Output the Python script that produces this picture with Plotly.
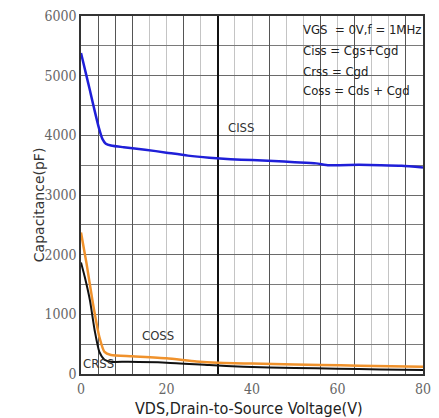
import plotly.graph_objects as go

# ---- data ----
ciss_v = [0, 1, 2, 3, 4.2, 5, 5.8, 7, 10, 15, 20, 25, 30, 35, 40, 45, 50, 55, 58, 65, 70, 75, 80]
ciss_c = [5380, 5080, 4780, 4470, 4120, 3940, 3860, 3830, 3800, 3760, 3710, 3660, 3625, 3600, 3585, 3570, 3550, 3530, 3500, 3505, 3500, 3490, 3460]

coss_v = [0, 1.3, 2.8, 4.3, 5.5, 7, 12, 20, 27, 32, 40, 50, 56, 65, 80]
coss_c = [2370, 1850, 1180, 620, 370, 318, 296, 262, 210, 188, 175, 160, 150, 140, 122]

crss_v = [0, 0.9, 2.1, 3.2, 4.3, 5.5, 7, 11, 20, 30, 38, 50, 60, 70, 80]
crss_c = [1870, 1620, 1230, 730, 370, 240, 205, 205, 190, 150, 122, 100, 90, 75, 65]

x_ticks = [0, 20, 40, 60, 80]
y_ticks = [0, 1000, 2000, 3000, 4000, 5000, 6000]
y_minor = [500, 1500, 2500, 3500, 4500, 5500]
x_dark_grid = [4, 8, 12, 24, 44, 56, 64, 76]
x_light_grid = [16, 20, 28, 36, 40, 48, 52, 60, 68, 72]

curve_labels = [("CISS", 37.5, 4130), ("COSS", 18, 650), ("CRSS", 4, 170)]
cond_lines = ["VGS  = 0V,f = 1MHz", "Ciss = Cgs+Cgd", "Crss = Cgd", "Coss = Cds + Cgd"]

NARROW = "DejaVu Sans Condensed, Liberation Sans Narrow, Arial Narrow, sans-serif"
SERIF = "DejaVu Serif Condensed, DejaVu Serif, Liberation Serif, serif"

fig = go.Figure()
fig.add_trace(go.Scatter(x=[None], y=[None], xaxis="x2", yaxis="y", showlegend=False, hoverinfo="skip"))
fig.add_trace(go.Scatter(x=[None], y=[None], xaxis="x3", yaxis="y", showlegend=False, hoverinfo="skip"))
fig.add_trace(go.Scatter(x=ciss_v, y=ciss_c, mode="lines", line=dict(color="#1f1fd8", width=2.5, shape="spline", smoothing=0.6)))
fig.add_trace(go.Scatter(x=coss_v, y=coss_c, mode="lines", line=dict(color="#f0922c", width=2.5, shape="spline", smoothing=0.6)))
fig.add_trace(go.Scatter(x=crss_v, y=crss_c, mode="lines", line=dict(color="#111111", width=2, shape="spline", smoothing=0.6)))

annos = []
for txt, xv, yv in curve_labels:
    annos.append(dict(x=xv, y=yv, xref="x", yref="y", text=txt, showarrow=False,
                      font=dict(family=NARROW, size=13, color="#333333")))
cond_y_px = [28, 49, 70, 89]
for txt, ypx in zip(cond_lines, cond_y_px):
    annos.append(dict(x=(306 - 81) / 350, y=(374 - ypx) / 360, xref="paper", yref="paper",
                      text=txt, showarrow=False, xanchor="left", yanchor="middle",
                      font=dict(family=NARROW, size=13, color="#222222")))
annos.append(dict(x=(253 - 81) / 350, y=-(409 - 374) / 360, xref="paper", yref="paper",
                  text="VDS,Drain-to-Source Voltage(V)", showarrow=False, yanchor="middle",
                  font=dict(family=NARROW, size=16, color="#222222")))
annos.append(dict(x=(28 - 81) / 350, y=(374 - 204) / 360, xref="paper", yref="paper",
                  text="Capacitance(pF)", showarrow=False, textangle=-90,
                  font=dict(family="DejaVu Sans, sans-serif", size=14, color="#333333")))

fig.update_layout(
    width=439, height=418,
    margin=dict(l=81, r=8, t=14, b=44),
    paper_bgcolor="white", plot_bgcolor="white",
    showlegend=False,
    annotations=annos,
    xaxis=dict(range=[0, 80], tickvals=x_ticks, showgrid=False, zeroline=False,
               showline=True, linecolor="#333333", linewidth=1.5, mirror=True,
               tickfont=dict(family=SERIF, size=14, color="#666666"), ticks="",
               ticklabelstandoff=1,
               minor=dict(tickvals=x_light_grid, showgrid=True, gridcolor="#c4c4c4", gridwidth=1)),
    xaxis2=dict(range=[0, 80], overlaying="x", anchor="y", side="bottom", tickvals=x_dark_grid,
                showticklabels=False, showgrid=True, gridcolor="#555555", gridwidth=1,
                zeroline=False, showline=False, ticks=""),
    xaxis3=dict(range=[0, 80], overlaying="x", anchor="y", side="bottom", tickvals=[32],
                showticklabels=False, showgrid=True, gridcolor="#111111", gridwidth=2,
                zeroline=False, showline=False, ticks=""),
    yaxis=dict(range=[0, 6000], tickvals=y_ticks, showgrid=True, gridcolor="#6a6a6a", gridwidth=1,
               zeroline=False, showline=True, linecolor="#333333", linewidth=1.5, mirror=True,
               tickfont=dict(family=SERIF, size=14, color="#666666"), ticks="",
               minor=dict(tickvals=y_minor, showgrid=True, gridcolor="#7a7a7a", gridwidth=1)),
)

fig.write_html("out.html")
